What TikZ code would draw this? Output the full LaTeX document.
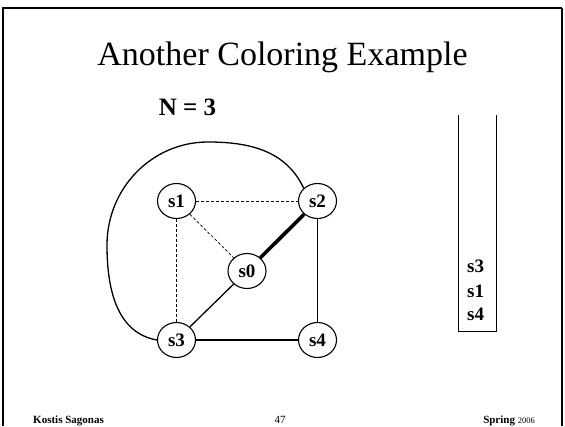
\documentclass[tikz,border=0pt]{standalone}
\usepackage{fontspec}
\setmainfont{Liberation Serif}
\usetikzlibrary{shapes.geometric}
\begin{document}
\begin{tikzpicture}[
    x=1pt, y=-1pt,
    vertex/.style={draw, ellipse, line width=1.1pt, minimum width=38pt, minimum height=35pt, inner sep=0pt, font=\fontsize{19}{19}\selectfont\bfseries},
    edge/.style={line width=1.3pt},
    heavy/.style={line width=3.6pt},
    move/.style={dash pattern=on 3pt off 2pt, line width=0.7pt},
    stackitem/.style={anchor=base west, inner sep=0pt, font=\fontsize{19}{19}\selectfont\bfseries},
    footer/.style={anchor=base, inner sep=0pt, font=\fontsize{11}{11}\selectfont}
]

\useasboundingbox (0,0) rectangle (565,426);

% Rahmen der Folie
\draw[line width=2.6pt] (3,426) -- (3,8);
\draw[line width=1.8pt] (2,8) -- (562,8);
\draw[line width=1.2pt] (562,8) -- (562,426);

% Titel
\node[anchor=base, inner sep=0pt, font=\fontsize{34}{34}\selectfont] (title) at (282.5,65) {Another Coloring Example};
\node[anchor=base, inner sep=0pt, font=\fontsize{25}{25}\selectfont\bfseries] (regs) at (187.5,115) {N = 3};

% Interferenzgraph
\node[vertex] (s1) at (176.5,201) {s1};
\node[vertex] (s2) at (317.5,201) {s2};
\node[vertex] (s0) at (247,271) {s0};
\node[vertex] (s3) at (176.5,340) {s3};
\node[vertex] (s4) at (317.5,340) {s4};

\draw[move] (s1) -- (s2);
\draw[move] (s1) -- (s0);
\draw[move] (s1) -- (s3);
\draw[heavy] (s0) -- (s2);
\draw[edge] (s0) -- (s3);
\draw[edge] (s2) -- (s4);
\draw[edge] (s3) -- (s4);

\coordinate (loopL) at (107,245);
\coordinate (loopT) at (208,142);
\draw[edge] (s3.west) to[out=170,in=-90] (loopL) to[out=90,in=180] (loopT) to[out=0,in=115] (s2.north west);

% Stapel
\draw[line width=0.9pt] (458,115) -- (458,331) -- (496,331) -- (496,115);
\node[stackitem] (st3) at (467,272) {s3};
\node[stackitem] (st1) at (467,297) {s1};
\node[stackitem] (st4) at (467,320) {s4};

% Fusszeile
\node[footer, anchor=base west] (author) at (33,423) {\bfseries Kostis Sagonas};
\node[footer] (page) at (280,423) {47};
\node[footer, anchor=base east] (term) at (535,423) {\bfseries Spring {\fontsize{8.5}{8.5}\selectfont\mdseries 2006}};

\end{tikzpicture}
\end{document}
